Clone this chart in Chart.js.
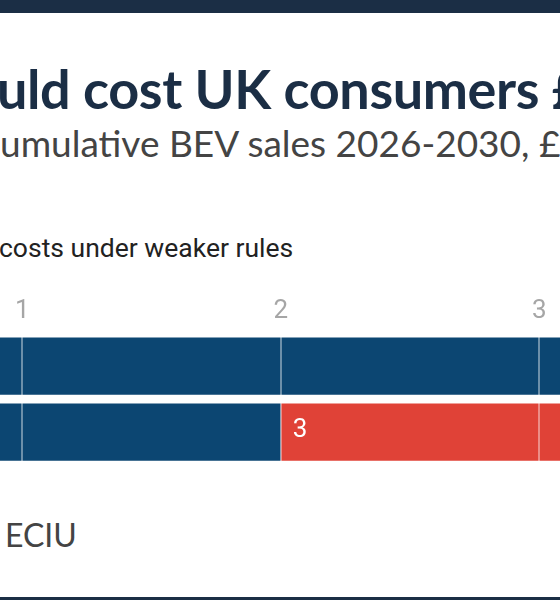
<!DOCTYPE html>
<html>
<head>
<meta charset="utf-8">
<script src="https://cdn.jsdelivr.net/npm/chart.js@4.4.1/dist/chart.umd.min.js"></script>
<style>
  html, body { margin: 0; padding: 0; }
  body { width: 560px; height: 600px; overflow: hidden; position: relative; background: #fff; }
  .bar { position: absolute; left: 0; width: 560px; background: #1b2e45; }
  .txt { position: absolute; white-space: nowrap; line-height: 1; }
  #title { top: 56px; font: 700 54px Lato, sans-serif; letter-spacing: -0.4px; color: #1b2e45; }
  #subtitle { top: 120px; font: 400 37px Lato, sans-serif; color: #444; }
  #legend { top: 232px; font: 400 26.5px Roboto, sans-serif; color: #222; }
  #source { top: 515px; font: 400 32px Lato, sans-serif; color: #444; }
  .sw { display: inline-block; width: 20px; height: 20px; margin-right: 8px; vertical-align: -2px; }
  #wrap { position: absolute; left: -296px; top: 290px; width: 1412px; height: 175px; }
</style>
</head>
<body>
<div class="bar" style="top:0;height:13px"></div>
<div class="bar" style="top:597px;height:3px"></div>

<div id="title" class="txt"><span class="lead">Weakening EV rules co</span>uld cost UK consumers £3bn</div>
<div id="subtitle" class="txt"><span class="lead">Consumer savings from c</span>umulative BEV sales 2026-2030, £bn</div>
<div id="legend" class="txt"><span class="lead"><i class="sw" style="background:#0c4672"></i>Savings under current rules&nbsp;&nbsp;&nbsp;<i class="sw" style="background:#e04237"></i>Additional </span>costs under weaker rules</div>
<div id="source" class="txt"><span class="lead">Source: </span>ECIU</div>

<div id="wrap"><canvas id="costChart"></canvas></div>

<script>
const categories = ['Current rules', 'Weaker rules'];
const savings = [5, 2];
const extraCosts = [0, 3];
const xTicks = [0, 1, 2, 3, 4, 5];

// put the visible part of each cropped text where it sits in the picture
function pin(id, x) {
  const el = document.getElementById(id);
  const lead = el.querySelector('.lead');
  el.style.left = (x - lead.getBoundingClientRect().width) + 'px';
}
pin('title', -3);
pin('subtitle', 0);
pin('legend', -1);
pin('source', 5);

const barLabels = {
  id: 'barLabels',
  afterDatasetsDraw(chart) {
    const ctx = chart.ctx;
    ctx.save();
    ctx.font = '400 26px Roboto';
    ctx.fillStyle = '#fff';
    ctx.textAlign = 'left';
    ctx.textBaseline = 'middle';
    chart.data.datasets.forEach((ds, i) => {
      chart.getDatasetMeta(i).data.forEach((bar, j) => {
        if (!ds.data[j]) return;
        ctx.fillText(String(ds.data[j]), bar.base + 12, bar.y - 2);
      });
    });
    ctx.restore();
  }
};

const costCht = new Chart(document.getElementById('costChart'), {
  type: 'bar',
  data: {
    labels: categories,
    datasets: [{
      label: 'Savings under current rules',
      data: savings,
      backgroundColor: '#0c4672',
      borderWidth: 0,
    }, {
      label: 'Additional costs under weaker rules',
      data: extraCosts,
      backgroundColor: '#e04237',
      borderWidth: 0,
    }]
  },
  options: {
    indexAxis: 'y',
    responsive: true,
    maintainAspectRatio: false,
    animation: false,
    categoryPercentage: 1,
    barPercentage: 0.87,
    layout: {
      padding: { left: 60, right: 60, top: 0, bottom: 0 }
    },
    scales: {
      x: {
        position: 'top',
        stacked: true,
        min: 0,
        max: 5,
        border: { display: false },
        grid: {
          z: 1,
          color: 'rgba(255, 255, 255, 0.4)',
          lineWidth: 2,
          drawTicks: false,
        },
        afterBuildTicks: (axis) => {
          axis.ticks = xTicks.map(v => ({ value: v }));
        },
        ticks: {
          padding: 6,
          color: '#a6a6a6',
          font: {
            family: 'Roboto',
            size: 26,
          }
        }
      },
      y: {
        stacked: true,
        display: false,
      }
    },
    plugins: {
      legend: { display: false },
      tooltip: { enabled: false },
    }
  },
  plugins: [barLabels]
});
</script>
</body>
</html>
